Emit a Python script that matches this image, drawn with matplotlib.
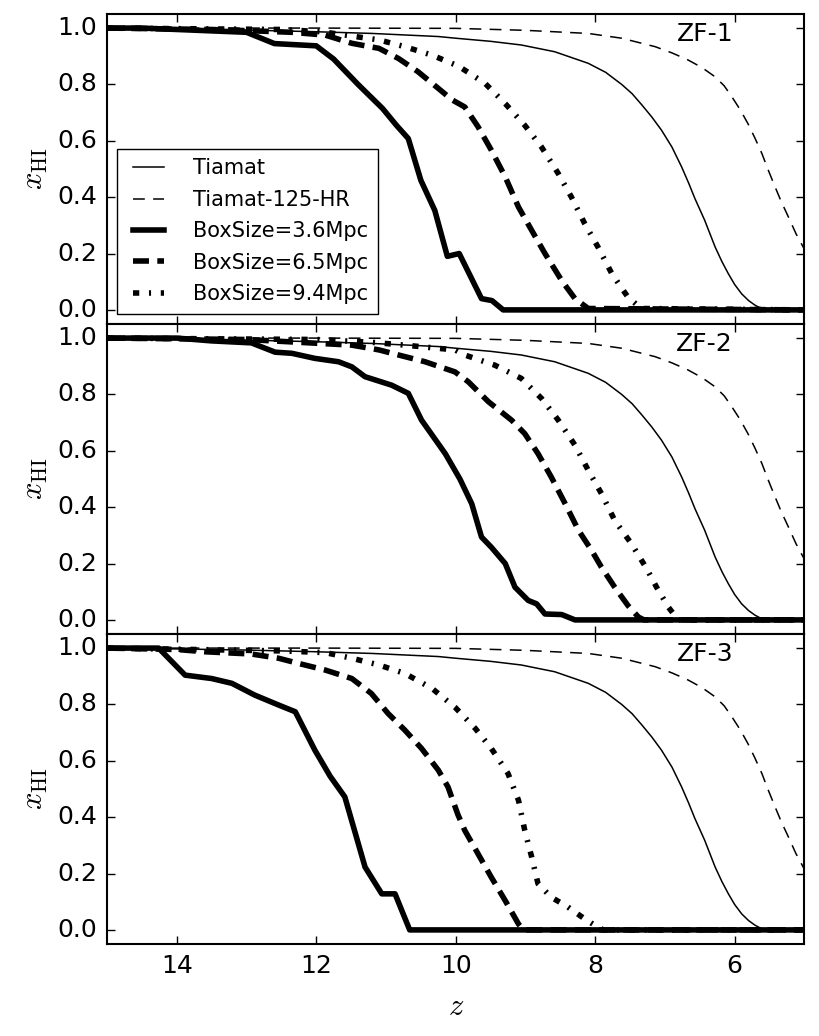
#!/usr/bin/env python

"""
plot.py - neutral fraction histories for three ZF runs against Tiamat
"""

import matplotlib
matplotlib.use("Agg")
import matplotlib.pyplot as plt

# Tiamat reference curves (same in every panel)
tiamatZ = [15.0, 14.0, 13.0, 12.0, 11.2, 10.25, 10.0, 9.5, 9.06, 8.58, 8.10, 7.85, 7.62, 7.47,
           7.33, 7.19, 7.05, 6.9, 6.76, 6.66, 6.57, 6.43, 6.28, 6.18, 6.09, 6.0, 5.9, 5.8,
           5.71, 5.62, 5.55, 5.0]
tiamatX = [1.0, 0.997, 0.993, 0.987, 0.981, 0.97, 0.964, 0.953, 0.94, 0.916, 0.875, 0.843, 0.80, 0.767,
           0.727, 0.685, 0.638, 0.578, 0.507, 0.45, 0.395, 0.318, 0.223, 0.17, 0.128, 0.09, 0.057, 0.033,
           0.017, 0.005, 0.0, 0.0]

hrZ = [15.0, 12.0, 10.0, 9.0, 8.10, 7.62, 7.14, 6.9, 6.67, 6.47, 6.28, 6.15, 6.04, 5.92, 5.81,
       5.71, 5.61, 5.52, 5.42, 5.33, 5.23, 5.12, 5.0]
hrX = [1.0, 1.0, 0.999, 0.992, 0.981, 0.964, 0.934, 0.912, 0.887, 0.86, 0.827, 0.795, 0.756, 0.71, 0.661,
       0.61, 0.555, 0.497, 0.436, 0.383, 0.33, 0.27, 0.215]

# ZF-1
zf1Box36Z = [15.0, 14.5, 14.0, 13.5, 13.0, 12.9, 12.6, 12.0, 11.75, 11.4, 11.05, 10.85, 10.68,
             10.5, 10.3, 10.12, 9.95, 9.63, 9.48, 9.32, 5.0]
zf1Box36X = [1.0, 1.0, 0.995, 0.99, 0.985, 0.975, 0.945, 0.937, 0.89, 0.80, 0.715, 0.655, 0.608,
             0.46, 0.353, 0.19, 0.20, 0.04, 0.033, 0.0, 0.0]
zf1Box65Z = [15.0, 13.5, 12.88, 12.35, 11.87, 11.49, 11.1, 10.82, 10.54, 10.25, 10.05, 9.87, 9.68,
             9.49, 9.29, 9.10, 8.91, 8.72, 8.48, 8.29, 8.10, 5.0]
zf1Box65X = [1.0, 0.995, 0.99, 0.985, 0.975, 0.946, 0.928, 0.892, 0.845, 0.786, 0.745, 0.72, 0.65,
             0.567, 0.472, 0.365, 0.282, 0.2, 0.104, 0.04, 0.005, 0.0]
zf1Box94Z = [15.0, 12.5, 11.92, 11.44, 11.1, 10.73, 10.34, 9.96, 9.58, 9.29, 9.01, 8.77, 8.53,
             8.34, 8.15, 7.96, 7.76, 7.53, 7.34, 5.0]
zf1Box94X = [1.0, 0.995, 0.987, 0.97, 0.958, 0.934, 0.904, 0.865, 0.804, 0.732, 0.655, 0.578, 0.484,
             0.40, 0.306, 0.223, 0.128, 0.045, 0.005, 0.0]

# ZF-2
zf2Box36Z = [15.0, 14.0, 13.5, 12.93, 12.59, 12.35, 12.02, 11.68, 11.49, 11.30, 10.92, 10.68, 10.49,
             10.15, 9.94, 9.77, 9.63, 9.49, 9.29, 9.15, 8.96, 8.84, 8.72, 8.48, 8.29, 5.0]
zf2Box36X = [1.0, 1.0, 0.99, 0.983, 0.95, 0.946, 0.928, 0.916, 0.898, 0.863, 0.833, 0.804, 0.709,
             0.59, 0.50, 0.412, 0.294, 0.258, 0.2, 0.116, 0.069, 0.057, 0.021, 0.019, 0.0, 0.0]
zf2Box65Z = [15.0, 13.0, 12.4, 11.87, 11.49, 11.1, 10.82, 10.44, 10.01, 9.82, 9.53, 9.20, 9.01,
             8.82, 8.63, 8.43, 8.24, 8.05, 7.91, 7.72, 7.53, 7.38, 7.3, 5.0]
zf2Box65X = [1.0, 0.995, 0.987, 0.98, 0.975, 0.958, 0.94, 0.916, 0.88, 0.845, 0.774, 0.709, 0.661,
             0.59, 0.507, 0.412, 0.318, 0.246, 0.187, 0.116, 0.051, 0.01, 0.0, 0.0]
zf2Box94Z = [15.0, 12.0, 11.2, 10.73, 10.01, 9.87, 9.44, 9.06, 8.77, 8.53, 8.29, 8.10, 7.91,
             7.72, 7.48, 7.26, 7.12, 6.95, 6.81, 5.0]
zf2Box94X = [1.0, 0.995, 0.985, 0.975, 0.958, 0.94, 0.904, 0.857, 0.786, 0.709, 0.62, 0.531, 0.448,
             0.353, 0.27, 0.181, 0.116, 0.045, 0.0, 0.0]

# ZF-3
zf3Box36Z = [15.0, 14.26, 13.88, 13.5, 13.21, 12.88, 12.54, 12.30, 12.02, 11.8, 11.59, 11.30,
             11.06, 10.87, 10.66, 5.0]
zf3Box36X = [1.0, 1.0, 0.904, 0.892, 0.875, 0.833, 0.798, 0.774, 0.638, 0.545, 0.472, 0.223,
             0.128, 0.128, 0.0, 0.0]
zf3Box65Z = [15.0, 14.0, 13.6, 12.93, 12.54, 12.26, 11.87, 11.49, 11.21, 10.97, 10.73, 10.49,
             10.25, 10.11, 9.97, 9.87, 9.68, 9.49, 9.29, 9.10, 9.03, 5.0]
zf3Box65X = [1.0, 0.995, 0.987, 0.979, 0.964, 0.946, 0.922, 0.892, 0.839, 0.768, 0.709, 0.644,
             0.567, 0.507, 0.41, 0.353, 0.27, 0.187, 0.104, 0.021, 0.0, 0.0]
zf3Box94Z = [15.0, 12.5, 11.87, 11.49, 11.1, 10.73, 10.34, 10.01, 9.72, 9.49, 9.25, 9.10, 9.01,
             8.91, 8.82, 8.63, 8.39, 8.15, 7.96, 7.88, 5.0]
zf3Box94X = [1.0, 0.99, 0.984, 0.964, 0.94, 0.91, 0.857, 0.79, 0.715, 0.644, 0.555, 0.46, 0.353,
             0.258, 0.164, 0.116, 0.081, 0.039, 0.009, 0.0, 0.0]

panelNames = ["ZF-1", "ZF-2", "ZF-3"]
boxLabels = ["BoxSize=3.6Mpc", "BoxSize=6.5Mpc", "BoxSize=9.4Mpc"]
panelData = [
    [(zf1Box36Z, zf1Box36X), (zf1Box65Z, zf1Box65X), (zf1Box94Z, zf1Box94X)],
    [(zf2Box36Z, zf2Box36X), (zf2Box65Z, zf2Box65X), (zf2Box94Z, zf2Box94X)],
    [(zf3Box36Z, zf3Box36X), (zf3Box65Z, zf3Box65X), (zf3Box94Z, zf3Box94X)],
]
yTicks = [0.0, 0.2, 0.4, 0.6, 0.8, 1.0]
xTicks = [14, 12, 10, 8, 6]

# line styles for the three box sizes (dash lengths in points, not scaled)
BOX_STYLE = [
    dict(lw=4, ls="-"),
    dict(lw=4, ls=(0, (11.5, 6))),
    dict(lw=4, ls=(0, (4.5, 7, 1.5, 7))),
]


def setupStyle():
    plt.style.use("classic")
    plt.rcParams["figure.facecolor"] = "white"
    plt.rcParams["savefig.facecolor"] = "white"
    plt.rcParams["font.family"] = ["DejaVu Sans"]
    plt.rcParams["mathtext.fontset"] = "cm"
    plt.rcParams["axes.linewidth"] = 1.5
    plt.rcParams["lines.scale_dashes"] = False
    plt.rcParams["lines.dash_capstyle"] = "butt"
    for ax in ("xtick", "ytick"):
        plt.rcParams[ax + ".major.size"] = 6
        plt.rcParams[ax + ".major.width"] = 1.0
        plt.rcParams[ax + ".major.pad"] = 7
        plt.rcParams[ax + ".labelsize"] = 18
        plt.rcParams[ax + ".direction"] = "in"


def plotPanels():
    fig, axes = plt.subplots(3, 1, sharex=True, figsize=(8.2, 10.36), dpi=100)
    fig.subplots_adjust(left=0.1305, right=0.981, top=0.9865, bottom=0.0888, hspace=0)

    for i, ax in enumerate(axes):
        ax.plot(tiamatZ, tiamatX, "k-", lw=1.1, label="Tiamat")
        ax.plot(hrZ, hrX, color="k", lw=1.1, ls=(0, (8.5, 6)), label="Tiamat-125-HR")
        for (z, x), label, style in zip(panelData[i], boxLabels, BOX_STYLE):
            ax.plot(z, x, color="k", label=label, **style)

        ax.set_xlim(15, 5)
        ax.set_ylim(-0.05, 1.05)
        ax.set_yticks(yTicks)
        ax.set_xticks(xTicks)
        ax.set_ylabel(r"$x_{\rm HI}$", fontsize=22)
        ax.text(0.857, 0.913, panelNames[i], transform=ax.transAxes,
                ha="center", va="baseline", fontsize=18)

        if i == 0:
            ax.legend(loc="lower left", fontsize=15, labelspacing=0.55,
                      handlelength=2.1, handletextpad=1.1, borderpad=0.45,
                      borderaxespad=0.5, frameon=True)
        if i < 2:
            plt.setp(ax.get_xticklabels(), visible=False)

    axes[-1].set_xlabel(r"$z$", fontsize=22, labelpad=10)
    fig.savefig("out.png", dpi=100)


if __name__ == "__main__":
    setupStyle()
    plotPanels()
